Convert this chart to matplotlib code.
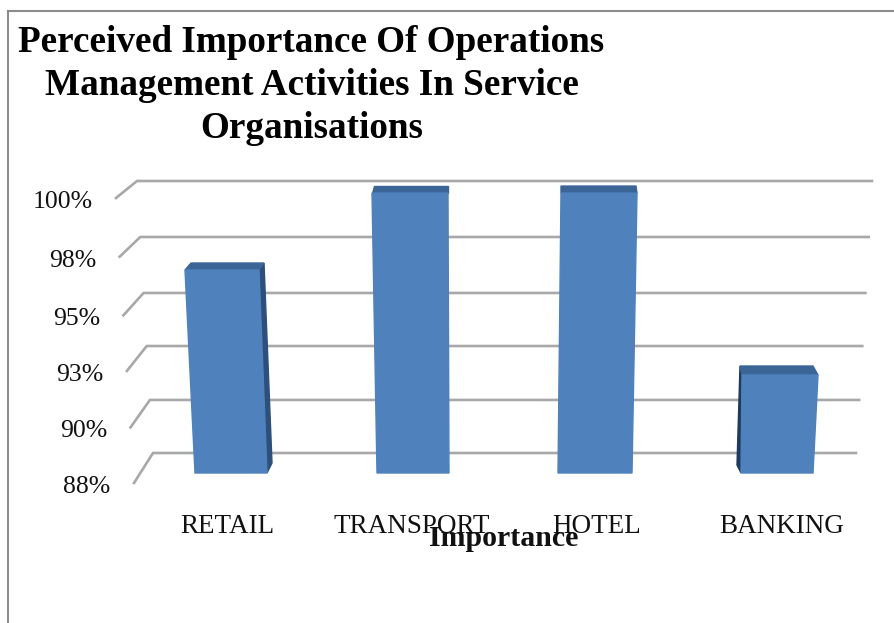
import numpy as np
import matplotlib
matplotlib.use('Agg')
import matplotlib.pyplot as plt
from matplotlib.patches import Polygon

plt.rcParams['font.family'] = ['Liberation Serif', 'DejaVu Serif']

# data
categories = ['RETAIL', 'TRANSPORT', 'HOTEL', 'BANKING']
values = [96.7, 100, 100, 92.2]
tick_values = [88, 90.34, 92.72, 95.06, 97.53, 100]
tick_labels = ['88%', '90%', '93%', '95%', '98%', '100%']
title = 'Perceived Importance Of Operations\nManagement Activities In Service\nOrganisations'
xlabel = 'Importance'

W, H = 894, 623
fig = plt.figure(figsize=(W / 100, H / 100), dpi=100)
# axes: x=0 at 228px and 183.3px per category, y=88 at 473px and 23.33px per unit
ax = fig.add_axes([0, 0, 1, 1])
ax.set_xlim(-228 / 183.3, (W - 228) / 183.3)
ax.set_ylim(88 - (H - 473) / 23.33, 88 + 473 / 23.33)
ax.axis('off')
dx = 1 / 183.3  # one pixel in data units
dy = 1 / 23.33
x0 = -228 / 183.3

# outer frame
ax.plot([x0 + 8 * dx] * 2, [ax.get_ylim()[0], 88 + (473 - 11) * dy], color='#8c8c8c', lw=1.5)
ax.plot([x0 + 8 * dx, ax.get_xlim()[1]], [88 + (473 - 11) * dy] * 2, color='#8c8c8c', lw=1.5)

# gridlines, back wall is squeezed compared to the front labels
grid_col = '#a8a8a8'
for i, t in enumerate(tick_values):
    frac = (t - 88) / 12
    y_back = 88 + ((473 - 453) + frac * (453 - 181)) * dy
    y_front = 88 + ((473 - 483) + frac * (483 - 198)) * dy
    x_back = x0 + (153 - frac * 16) * dx
    x_front = x0 + (134 - frac * 18) * dx
    x_end = x0 + (856 + frac * 16) * dx
    ax.plot([x_front, x_back, x_end], [y_front, y_back, y_back], color=grid_col, lw=1.9, zorder=1)
    ax.text(x_front - 23.5 * dx, y_front - 4 * dy, tick_labels[i], ha='right', va='center', fontsize=18.5, color='#111111')

# bars, lean and side face follow the perspective (all in pixels)
shift_bottom = [3, 1.7, 0.4, -0.9]
shift_top = [-6, -1.3, 4.4, 2.1]
half_bottom = [36, 36, 37, 36]
half_top = [37, 38, 38, 38]
cap_left = [6, 2, 0, -2]
cap_right = [5, 0, -1, -5]
cap_depth = [7, 7, 7, 9]
flank_width = [5, 0, 0, -4]
flank_col = ['#2c4f7c', '#2c4f7c', '#2c4f7c', '#1f3a5f']
for i, v in enumerate(values):
    xb = i + shift_bottom[i] * dx
    xt = i + shift_top[i] * dx
    hb = half_bottom[i] * dx
    ht = half_top[i] * dx
    front = [(xb - hb, 88), (xb + hb, 88), (xt + ht, v), (xt - ht, v)]
    top = v + cap_depth[i] * dy
    cap = [(xt - ht, v), (xt + ht, v), (xt + ht + cap_right[i] * dx, top), (xt - ht + cap_left[i] * dx, top)]
    s = flank_width[i] * dx
    if flank_width[i] > 0:
        flank = [(xb + hb, 88), (xb + hb + s, 88 + 10 * dy), (xt + ht + cap_right[i] * dx, top), (xt + ht, v)]
        ax.add_patch(Polygon(flank, color=flank_col[i], zorder=2))
    elif flank_width[i] < 0:
        flank = [(xb - hb, 88), (xb - hb + s, 88 + 8 * dy), (xt - ht + cap_left[i] * dx, top), (xt - ht, v)]
        ax.add_patch(Polygon(flank, color=flank_col[i], zorder=2))
    ax.add_patch(Polygon(cap, color='#3b6596', zorder=2))
    ax.add_patch(Polygon(front, color='#4f81bd', zorder=3))
    ax.text(i * 1.008 - 0.005, 88 + (473 - 527) * dy, categories[i], ha='center', va='center', fontsize=19.5, color='#111111', zorder=5)

ax.text(x0 + 504 * dx, 88 + (473 - 538.5) * dy, xlabel, ha='center', va='center', fontsize=21.5, fontweight='bold', color='#111111', zorder=6)
ax.text(x0 + 311.5 * dx, 88 + (473 - 85.5) * dy, title, ha='center', va='center', fontsize=26.7, fontweight='bold', color='black', linespacing=1.31)

fig.savefig('out.png', dpi=100)
